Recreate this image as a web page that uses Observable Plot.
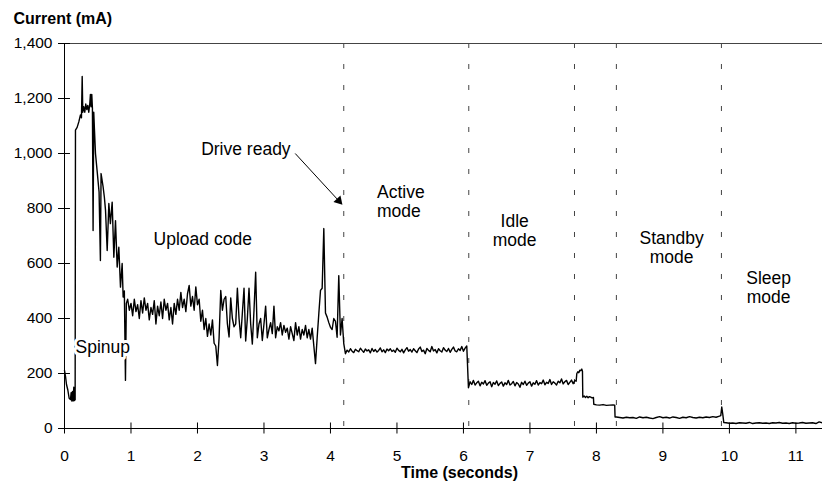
<!DOCTYPE html>
<html><head><meta charset="utf-8">
<script src="https://cdn.jsdelivr.net/npm/d3@7"></script>
<script src="https://cdn.jsdelivr.net/npm/@observablehq/plot@0.6"></script>
<style>
html,body{margin:0;padding:0;background:#fff;}
</style></head><body><div id="chart"></div>
<script>
// ---- data (time in seconds, current in mA) ----
const spinupTime = [0,0.015,0.03,0.05,0.07,0.09,0.1,0.11,0.12,0.13,0.14,0.15,0.16,0.165,0.19,0.215,0.24,0.255,0.266,0.275,0.29,0.305,0.32,0.335,0.35,0.365,0.38,0.39,0.4,0.41,0.42,0.43,0.44,0.45,0.466,0.49,0.52,0.54,0.55,0.58,0.6,0.617,0.642,0.667,0.69,0.717,0.742,0.767,0.792,0.817,0.842,0.867,0.882,0.9,0.917,0.93,0.943];
const spinupCurrent = [211,190,160,140,110,105,130,100,135,100,150,102,105,1085,1095,1115,1140,1130,1280,1150,1170,1150,1180,1160,1175,1150,1180,1215,1170,1215,1165,720,1150,1090,1000,938,860,611,927,880,840,793,647,818,745,823,623,756,587,659,514,600,478,500,175,455,465];

const sampleStep = 0.025;
const uploadStart = 0.95;
const uploadCurrent = [470,430,455,410,470,425,450,400,465,420,
475,430,455,395,440,415,465,380,445,410,
460,400,470,430,455,395,440,380,455,415,
470,430,495,440,470,425,490,520,445,480,
430,515,450,470,390,430,360,400,335,380,
340,395,310,300,229,330,502,430,470,480,
380,333,475,400,370,380,510,400,330,420,
510,318,400,510,380,307,430,568,330,380,
400,320,380,445,330,360,385,345,445,330,
370,355,385,340,375,350,365,325,370,345,
320,385,340,370,325,360,340,375,330,360,
325,365,300,236,330,418,502,510,727,420,
405,385,368,360,400,390,332,556,340,400,309];

const activeStart = 4.225;
const activeCurrent = [272,285,278,290,281,276,288,283,279,292,
284,277,289,282,286,275,291,280,287,278,
284,293,279,286,276,289,283,290,280,285,
277,292,284,279,288,275,286,294,281,287,
278,290,283,276,289,296,280,285,272,291,
284,279,298,282,287,275,290,283,278,294,
285,280,291,277,288,296,282,279,290,284,
298,281,292,300];

const idleStart = 6.075;
const idleCurrent = [148,170,160,175,158,166,172,155,168,162,
174,157,165,170,152,167,161,173,156,164,
169,154,166,160,175,158,163,171,155,167,
162,150,168,160,172,157,165,170,154,166,
161,174,158,167,163,176,159,168,164,178,
160,170,165,158,172,166,180,162,170,175,
160];

const idleEndTime = [7.6,7.625,7.65,7.675,7.695,7.705,7.72,7.735,7.75,7.765,7.78,7.79,7.795,7.815,7.835,7.855,7.875,7.895,7.915,7.935,7.955,7.96,8.0,8.05,8.1,8.15,8.2,8.25,8.275,8.28];
const idleEndCurrent = [168,176,163,174,172,200,206,203,212,210,216,208,114,118,113,117,112,116,114,111,113,88,86,85,87,84,85,86,85,42];

const slowStep = 0.05;
const standbyStart = 8.3;
const standbyCurrent = [42,40,38,41,39,40,37,42,39,41,38,36,40,43,39,41,38,42,40,37,41,39,43,40,38,41,39,42,40,43,41,45];

const sleepEntryTime = [9.87,9.885,9.9,9.915];
const sleepEntryCurrent = [47,78,52,22];

const sleepStart = 9.95;
const sleepCurrent = [21,19,20,18,21,20,19,22,18,20,21,19,20,18,21,20,22,19,20,18,21,19,20,22,19,20,21,18,24,20];

const modeBoundaries = [4.2, 6.08, 7.67, 8.3, 9.88];
const xTicks = [0,1,2,3,4,5,6,7,8,9,10,11];
const yTicks = [0,200,400,600,800,1000,1200,1400];

const leftLabels = [
  {label: "Spinup", t: 0.165, v: 298},
  {label: "Upload code", t: 1.34, v: 691},
  {label: "Drive ready", t: 2.055, v: 1015},
  {label: "Active\nmode", t: 4.70, v: 827}
];
const centerLabels = [
  {label: "Idle\nmode", t: 6.77, v: 720},
  {label: "Standby\nmode", t: 9.13, v: 660},
  {label: "Sleep\nmode", t: 10.59, v: 513}
];
const driveReadyArrow = [{t1: 3.47, v1: 1000, t2: 4.125, v2: 828}];

// ---- build series ----
const series = [];
spinupTime.forEach((t, i) => series.push({t, v: spinupCurrent[i]}));
uploadCurrent.forEach((v, i) => series.push({t: uploadStart + i * sampleStep, v}));
activeCurrent.forEach((v, i) => series.push({t: activeStart + i * sampleStep, v}));
idleCurrent.forEach((v, i) => series.push({t: idleStart + i * sampleStep, v}));
idleEndTime.forEach((t, i) => series.push({t, v: idleEndCurrent[i]}));
standbyCurrent.forEach((v, i) => series.push({t: standbyStart + i * slowStep, v}));
sleepEntryTime.forEach((t, i) => series.push({t, v: sleepEntryCurrent[i]}));
sleepCurrent.forEach((v, i) => series.push({t: sleepStart + i * slowStep, v}));
series.sort((a, b) => a.t - b.t);

const font = '"Liberation Sans", Arial, Helvetica, sans-serif';

const chart = Plot.plot({
  width: 822, height: 483,
  marginLeft: 64, marginRight: 0, marginTop: 43, marginBottom: 55,
  style: {fontFamily: font, fontSize: "15.5px", color: "#000", background: "#fff", overflow: "visible"},
  x: {domain: [0, 11.4]},
  y: {domain: [0, 1400]},
  marks: [
    Plot.ruleX(modeBoundaries, {y1: 1400, y2: 0, stroke: "#444", strokeWidth: 1, strokeDasharray: "5,16"}),
    Plot.ruleY([1400], {stroke: "#444", strokeWidth: 1}),
    Plot.line(series, {x: "t", y: "v", stroke: "#000", strokeWidth: 1.4}),
    Plot.ruleX([0], {y1: 0, y2: 1400, stroke: "#000"}),
    Plot.ruleY([0], {stroke: "#000"}),
    Plot.ruleY(yTicks, {x1: -0.09, x2: 0.09, stroke: "#000"}),
    Plot.ruleX(xTicks, {y1: -20, y2: 20, stroke: "#000"}),
    Plot.axisY({ticks: yTicks, tickSize: 0, tickPadding: 12, label: null, fontSize: 15.5}),
    Plot.axisX({ticks: xTicks, tickSize: 0, tickPadding: 21, label: null, fontSize: 15.5}),
    Plot.link(driveReadyArrow, {x1: "t1", y1: "v1", x2: "t2", y2: "v2", stroke: "#000", strokeWidth: 1}),
    Plot.dot(driveReadyArrow, {x: "t2", y: "v2", symbol: "triangle", r: 3.5, fill: "#000", rotate: 138}),
    Plot.text(leftLabels, {x: "t", y: "v", text: "label", textAnchor: "start", lineAnchor: "middle", fontSize: 17.5, lineHeight: 1.09, fill: "#000", stroke: "#fff", strokeWidth: 6}),
    Plot.text(centerLabels, {x: "t", y: "v", text: "label", textAnchor: "middle", lineAnchor: "middle", fontSize: 17.5, lineHeight: 1.09, fill: "#000"}),
    Plot.text(["Current (mA)"], {frameAnchor: "top-left", dx: -51, dy: -25, textAnchor: "start", lineAnchor: "middle", fontWeight: "bold", fontSize: 16, fill: "#000"}),
    Plot.text(["Time (seconds)"], {frameAnchor: "bottom", dx: 16, dy: 44, textAnchor: "middle", lineAnchor: "middle", fontWeight: "bold", fontSize: 16, fill: "#000"})
  ]
});
document.getElementById("chart").appendChild(chart);
</script>
</body></html>
